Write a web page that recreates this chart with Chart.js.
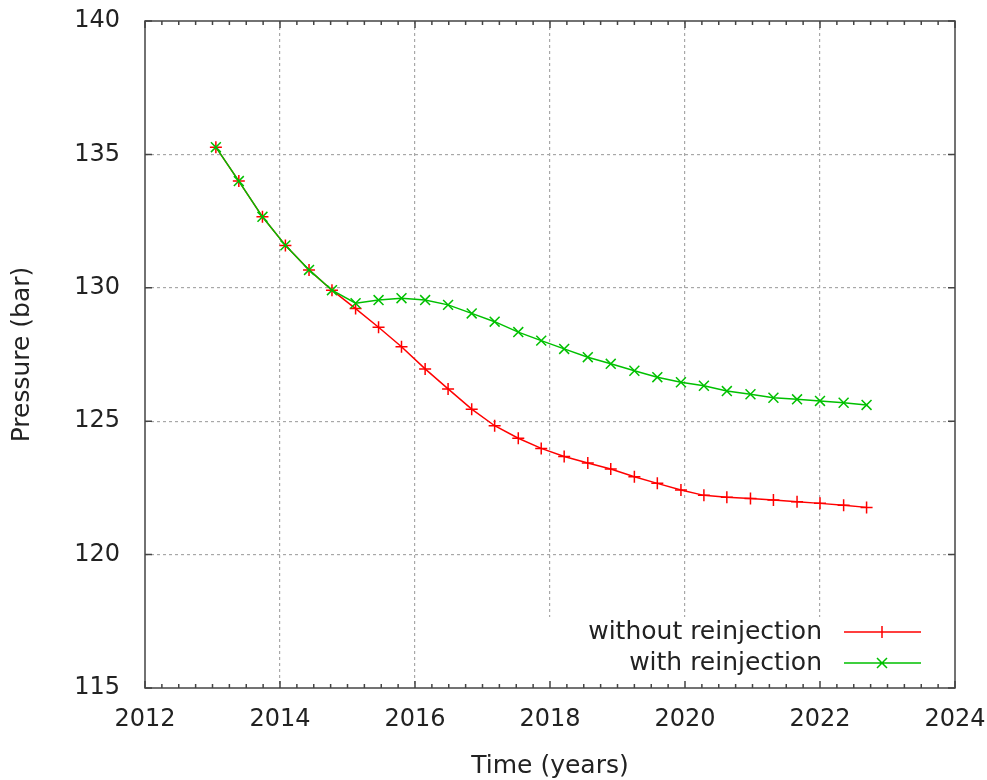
<!DOCTYPE html>
<html>
<head>
<meta charset="utf-8">
<title>Pressure vs time</title>
<script src="https://cdn.jsdelivr.net/npm/chart.js@4.4.1/dist/chart.umd.min.js"></script>
<style>
  html, body { margin: 0; padding: 0; background: #fff; }
  #wrap { width: 987px; height: 780px; }
</style>
</head>
<body>
<div id="wrap"><canvas id="pressureChart" width="987" height="780"></canvas></div>
<script>
// data
const years = [
  2013.05, 2013.39, 2013.74, 2014.08, 2014.43, 2014.77, 2015.12, 2015.46,
  2015.80, 2016.15, 2016.49, 2016.84, 2017.18, 2017.53, 2017.87, 2018.21,
  2018.56, 2018.90, 2019.25, 2019.59, 2019.94, 2020.28, 2020.62, 2020.97,
  2021.31, 2021.66, 2022.00, 2022.35, 2022.69,
];
const withoutReinjection = [
  135.27, 134.00, 132.66, 131.59, 130.67, 129.91, 129.22, 128.52,
  127.79, 126.96, 126.21, 125.45, 124.83, 124.36, 123.98, 123.68,
  123.43, 123.21, 122.92, 122.67, 122.42, 122.22, 122.15, 122.10,
  122.05, 121.98, 121.92, 121.85, 121.77,
];
const withReinjection = [
  135.27, 134.00, 132.66, 131.59, 130.67, 129.91, 129.42, 129.54,
  129.61, 129.54, 129.36, 129.04, 128.73, 128.34, 128.02, 127.71,
  127.40, 127.15, 126.89, 126.65, 126.46, 126.33, 126.13, 126.01,
  125.88, 125.82, 125.76, 125.69, 125.61,
];
const xTicks = [2012, 2014, 2016, 2018, 2020, 2022, 2024];
const yTicks = [115, 120, 125, 130, 135, 140];
const seriesLabels = ["without reinjection", "with reinjection"];

const TEXT = "#222";
const FONT = "DejaVu Sans";

function toPoints(values) {
  return values.map((v, i) => ({ x: years[i], y: v }));
}

// gnuplot style frame, inward ticks and key
const framePlugin = {
  id: "frame",
  afterDraw(chart) {
    const { ctx, chartArea: a, scales } = chart;
    const xs = scales.x;
    const ys = scales.y;
    ctx.save();

    // key background hides the grid behind it
    ctx.fillStyle = "#fff";
    ctx.fillRect(530, 617, a.right - 530, a.bottom - 617);

    ctx.strokeStyle = "#444";
    ctx.lineWidth = 1.5;
    ctx.strokeRect(a.left, a.top, a.right - a.left, a.bottom - a.top);

    ctx.beginPath();
    xTicks.forEach((t, i) => {
      const px = xs.getPixelForValue(t);
      ctx.moveTo(px, a.bottom); ctx.lineTo(px, a.bottom - 7);
      ctx.moveTo(px, a.top); ctx.lineTo(px, a.top + 7);
      if (i < xTicks.length - 1) {
        const step = (xTicks[i + 1] - t) / 8;
        for (let k = 1; k < 8; k++) {
          const mx = xs.getPixelForValue(t + k * step);
          ctx.moveTo(mx, a.bottom); ctx.lineTo(mx, a.bottom - 4);
          ctx.moveTo(mx, a.top); ctx.lineTo(mx, a.top + 4);
        }
      }
    });
    yTicks.forEach((t) => {
      const py = ys.getPixelForValue(t);
      ctx.moveTo(a.left, py); ctx.lineTo(a.left + 7, py);
      ctx.moveTo(a.right, py); ctx.lineTo(a.right - 7, py);
    });
    ctx.stroke();

    // key
    ctx.font = "25px " + FONT;
    ctx.fillStyle = TEXT;
    ctx.textAlign = "right";
    ctx.textBaseline = "middle";
    chart.data.datasets.forEach((ds, i) => {
      const y = 632 + i * 31;
      ctx.fillText(seriesLabels[i], 822, y);
      ctx.strokeStyle = ds.borderColor;
      ctx.lineWidth = 1.5;
      ctx.beginPath();
      ctx.moveTo(844, y); ctx.lineTo(921, y);
      const cx = 882;
      if (ds.pointStyle === "cross") {
        ctx.moveTo(cx, y - 6); ctx.lineTo(cx, y + 6);
      } else {
        ctx.moveTo(cx - 5, y - 5); ctx.lineTo(cx + 5, y + 5);
        ctx.moveTo(cx - 5, y + 5); ctx.lineTo(cx + 5, y - 5);
      }
      ctx.stroke();
    });
    ctx.restore();
  },
};

const ctx = document.getElementById("pressureChart").getContext("2d");
new Chart(ctx, {
  type: "line",
  data: {
    datasets: [
      {
        label: seriesLabels[0],
        data: toPoints(withoutReinjection),
        borderColor: "#ff0000",
        backgroundColor: "#ff0000",
        borderWidth: 1.5,
        pointStyle: "cross",
        pointRadius: 6,
        pointBorderWidth: 1.5,
        tension: 0,
        fill: false,
        order: 2,
      },
      {
        label: seriesLabels[1],
        data: toPoints(withReinjection),
        borderColor: "#00c000",
        backgroundColor: "#00c000",
        borderWidth: 1.5,
        pointStyle: "crossRot",
        pointRadius: 7,
        pointBorderWidth: 1.5,
        tension: 0,
        fill: false,
        order: 1,
      },
    ],
  },
  options: {
    responsive: false,
    animation: false,
    devicePixelRatio: 1,
    layout: { padding: { top: 21, right: 32, left: 0, bottom: 0 } },
    plugins: {
      legend: { display: false },
      tooltip: { enabled: false },
    },
    scales: {
      x: {
        type: "linear",
        min: 2012,
        max: 2024,
        afterFit(scale) {
          scale.height = 92;
          scale.paddingLeft = 0;
          scale.paddingRight = 0;
        },
        afterBuildTicks(scale) { scale.ticks = xTicks.map((v) => ({ value: v })); },
        ticks: {
          autoSkip: false,
          maxRotation: 0,
          padding: 17,
          color: TEXT,
          font: { family: FONT, size: 24 },
          callback: (v) => String(v),
        },
        grid: {
          color: (c) => (c.tick && (c.tick.value === 2012 || c.tick.value === 2024) ? "rgba(0,0,0,0)" : "#a8a8a8"),
          lineWidth: 1.2,
          drawTicks: false,
        },
        border: { display: false, dash: [3, 3] },
        title: {
          display: true,
          text: "Time (years)",
          color: TEXT,
          font: { family: FONT, size: 25 },
          padding: { top: 0, bottom: -1 },
        },
      },
      y: {
        type: "linear",
        min: 115,
        max: 140,
        afterFit(scale) {
          scale.width = 145;
          scale.paddingTop = 0;
          scale.paddingBottom = 0;
        },
        afterBuildTicks(scale) { scale.ticks = yTicks.map((v) => ({ value: v })); },
        ticks: {
          padding: 25,
          color: TEXT,
          font: { family: FONT, size: 24 },
          callback: (v) => String(v),
        },
        grid: {
          color: (c) => (c.tick && (c.tick.value === 115 || c.tick.value === 140) ? "rgba(0,0,0,0)" : "#a8a8a8"),
          lineWidth: 1.2,
          drawTicks: false,
        },
        border: { display: false, dash: [3, 3] },
        title: {
          display: true,
          text: "Pressure (bar)",
          color: TEXT,
          font: { family: FONT, size: 25 },
          padding: { top: 7, bottom: 0 },
        },
      },
    },
  },
  plugins: [framePlugin],
});
</script>
</body>
</html>
